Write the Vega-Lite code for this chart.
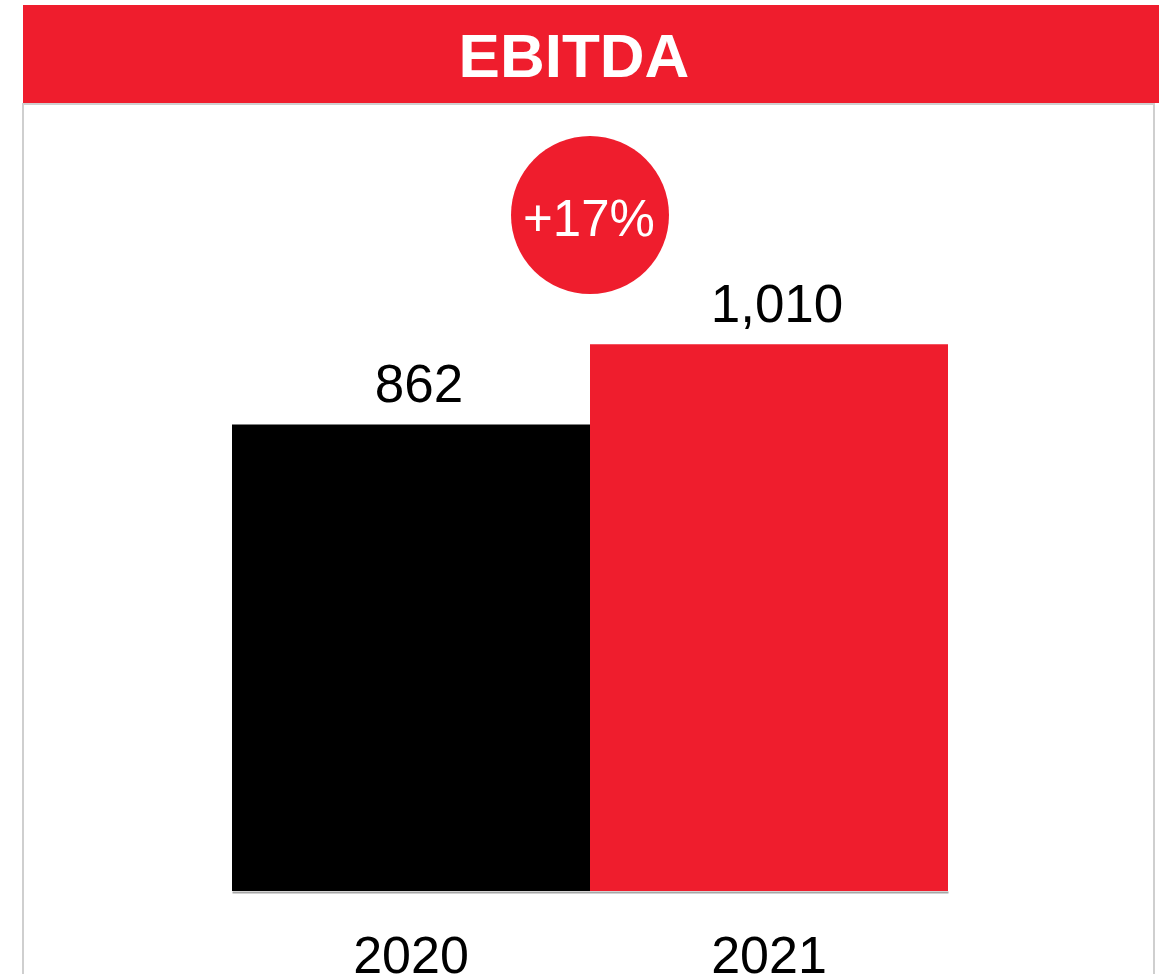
{
  "$schema": "https://vega.github.io/schema/vega-lite/v6.json",
  "padding": {"left": 22, "top": 5, "right": 0, "bottom": 0},
  "spacing": 0,
  "background": "white",
  "config": {"view": {"stroke": null}, "font": "Liberation Sans"},
  "datasets": {
    "header": [{"title": "EBITDA"}],
    "bars": [{"year": "2020", "value": 862}, {"year": "2021", "value": 1010}],
    "growth": [{"from": "2020", "to": "2021", "label": "+17%"}]
  },
  "vconcat": [
    {
      "width": 1136,
      "height": 98,
      "view": {"fill": "#EF1D2D", "stroke": null},
      "data": {"name": "header"},
      "mark": {"type": "text", "font": "Liberation Sans", "fontWeight": "bold", "fontSize": 62, "color": "white", "baseline": "alphabetic", "align": "center", "dx": -17, "dy": 23},
      "encoding": {"text": {"field": "title"}}
    },
    {
      "width": 1131,
      "height": 874,
      "view": {"stroke": "#cfcfcf", "strokeWidth": 2},
      "layer": [
        {
          "data": {"name": "bars"},
          "mark": {"type": "bar"},
          "encoding": {
            "x": {"field": "year", "type": "nominal", "scale": {"domain": ["2020", "2021"], "range": [209, 925], "paddingInner": 0, "paddingOuter": 0},
              "axis": {"orient": "bottom", "offset": -86, "title": null, "ticks": false, "tickSize": 0, "grid": false, "domainColor": "#a6a6a6", "domainWidth": 2, "labelFont": "Liberation Sans", "labelFontSize": 52, "labelColor": "black", "labelBaseline": "alphabetic", "labelPadding": 80, "labelAngle": 0, "zindex": 1}},
            "y": {"field": "value", "type": "quantitative", "scale": {"domain": [-160.7, 1453.9], "nice": false, "zero": false}, "axis": null},
            "y2": {"datum": 0},
            "color": {"field": "year", "type": "nominal", "scale": {"domain": ["2020", "2021"], "range": ["#000000", "#EF1D2D"]}, "legend": null}
          }
        },
        {
          "data": {"name": "bars"},
          "mark": {"type": "text", "font": "Liberation Sans", "fontSize": 53, "color": "black", "baseline": "alphabetic", "align": "center", "dx": 8, "dy": -22},
          "encoding": {
            "x": {"field": "year", "type": "nominal", "bandPosition": 0.5},
            "y": {"field": "value", "type": "quantitative"},
            "text": {"field": "value", "type": "quantitative", "format": ","}
          }
        },
        {
          "data": {"name": "growth"},
          "mark": {"type": "point", "shape": "circle", "filled": true, "size": 24964, "color": "#EF1D2D", "opacity": 1},
          "encoding": {
            "x": {"field": "from", "type": "nominal", "bandPosition": 1},
            "y": {"datum": 1248.8, "type": "quantitative"}
          }
        },
        {
          "data": {"name": "growth"},
          "mark": {"type": "text", "font": "Liberation Sans", "fontSize": 51, "color": "white", "baseline": "alphabetic", "align": "center", "dx": -1, "dy": 21},
          "encoding": {
            "x": {"field": "from", "type": "nominal", "bandPosition": 1},
            "y": {"datum": 1248.8, "type": "quantitative"},
            "text": {"field": "label"}
          }
        }
      ]
    }
  ]
}
